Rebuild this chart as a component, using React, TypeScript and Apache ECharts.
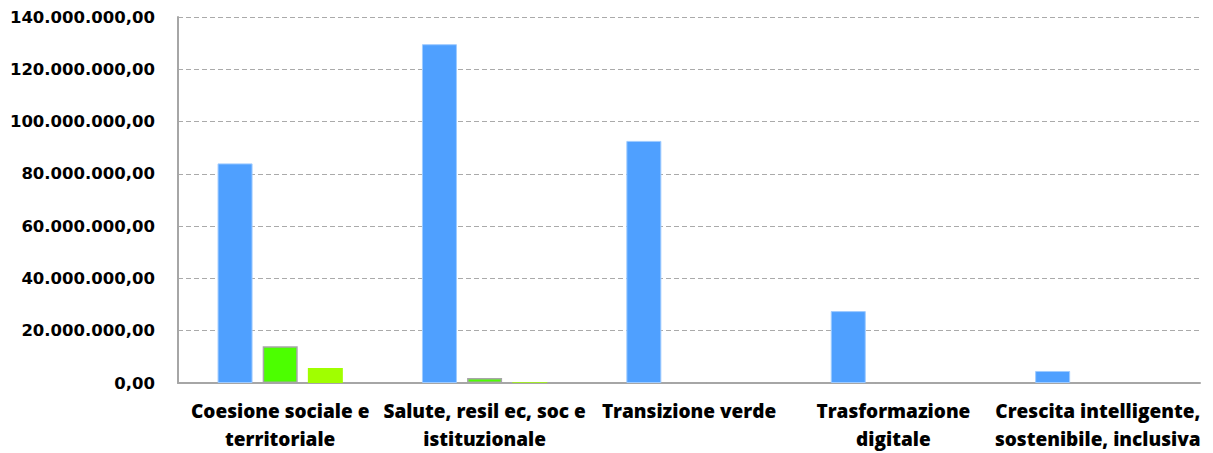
import React, { useEffect, useRef } from "react";
import * as echarts from "echarts";

const categories = [
  "Coesione sociale e\nterritoriale",
  "Salute, resil ec, soc e\nistituzionale",
  "Transizione verde",
  "Trasformazione\ndigitale",
  "Crescita intelligente,\nsostenibile, inclusiva",
];
const seriesBlue = [84000000, 129600000, 92600000, 27500000, 4600000];
const seriesGreen = [14100000, 1900000, 0, 0, 0];
const seriesLightGreen = [5700000, 300000, 0, 0, 0];

const fmt = (v: number) => {
  const s = Math.round(v).toString().replace(/\B(?=(\d{3})+(?!\d))/g, ".");
  return s + ",00";
};

export default function App() {
  const ref = useRef<HTMLDivElement>(null);
  useEffect(() => {
    if (!ref.current) return;
    const chart = echarts.init(ref.current, undefined, { renderer: "svg" });
    chart.setOption({
      animation: false,
      grid: { left: 178, right: 13, top: 17, bottom: 61 },
      xAxis: {
        type: "category",
        data: categories,
        axisTick: { show: false },
        axisLine: { lineStyle: { color: "#a6a6a6", width: 2 } },
        axisLabel: {
          interval: 0,
          margin: 14,
          color: "#000",
          fontFamily: "Open Sans",
          fontWeight: 800,
          fontSize: 19,
          lineHeight: 28,
        },
      },
      yAxis: {
        type: "value",
        min: 0,
        max: 140000000,
        interval: 20000000,
        axisLine: { show: true, lineStyle: { color: "#a6a6a6", width: 2 } },
        axisTick: { show: false },
        splitLine: { lineStyle: { color: "#aaaaaa", type: [5, 3], width: 1 } },
        axisLabel: {
          formatter: fmt,
          margin: 23,
          color: "#000",
          fontFamily: "DejaVu Sans",
          fontWeight: "bold",
          fontSize: 16.5,
        },
      },
      series: [
        {
          type: "bar",
          data: seriesBlue,
          barWidth: 35,
          barGap: "29%",
          itemStyle: { color: "#4fa0ff", borderColor: "#9fcbff", borderWidth: 1 },
        },
        {
          type: "bar",
          data: seriesGreen,
          barWidth: 35,
          barGap: "29%",
          itemStyle: { color: "#4cff00", borderColor: "#a6a6a6", borderWidth: 1.5 },
        },
        {
          type: "bar",
          data: seriesLightGreen,
          barWidth: 35,
          barGap: "29%",
          itemStyle: { color: "#a0ff00" },
        },
      ],
    });
    return () => chart.dispose();
  }, []);
  return (
    <div
      ref={ref}
      style={{ position: "absolute", left: 0, top: 0, width: 1213, height: 453, background: "#fff" }}
    />
  );
}
